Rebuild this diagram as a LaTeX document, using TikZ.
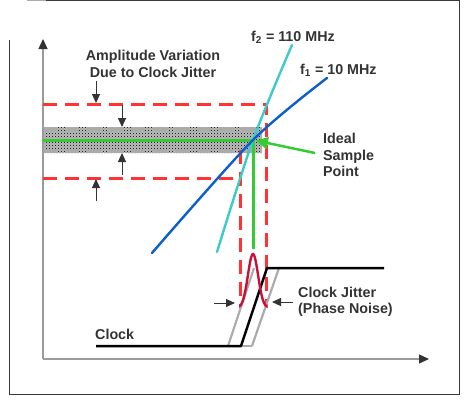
\documentclass[tikz,border=0pt]{standalone}
\usepackage{fontspec}
\setsansfont{Liberation Sans}
\usetikzlibrary{positioning, arrows.meta, patterns}

\begin{document}
\begin{tikzpicture}[
    x=1pt, y=-1pt,
    font=\sffamily\bfseries\fontsize{14.3}{16.5}\selectfont,
    >={Triangle[length=9pt,width=8pt]},
]
% ── Colours ──
\definecolor{frameg}{HTML}{3A3A3A}
\definecolor{axisg}{HTML}{9A9A9A}
\definecolor{textc}{HTML}{333333}
\definecolor{limit}{HTML}{FF3333}
\definecolor{ideal}{HTML}{33CC33}
\definecolor{fast}{HTML}{3CCACA}
\definecolor{slow}{HTML}{0A5FCC}
\definecolor{bell}{HTML}{C8103C}
\definecolor{edgeg}{HTML}{ABABAB}

% ── Styles ──
\tikzset{
    label-text/.style={text=textc, inner sep=0pt},
    axis-line/.style={draw=axisg, line width=1.3pt,
        -{Triangle[length=10pt,width=9pt,color=textc]}},
    limit-line/.style={draw=limit, line width=3pt, dash pattern=on 14pt off 8pt},
    band-edge/.style={draw=edgeg, line width=4pt, dash pattern=on 14pt off 8pt},
    ideal-line/.style={draw=ideal, line width=3pt},
    wave/.style={line width=2.4pt, line cap=round},
    dim-arrow/.style={->, draw=textc, line width=1pt},
    clock-line/.style={draw=black, line width=2.5pt, line join=round},
    edge-line/.style={draw=edgeg, line width=2.2pt},
}

\useasboundingbox (0,0) rectangle (467,402);

% ── Frame ──
\draw[edgeg, line width=1pt] (27,0.5) -- (46,0.5);
\draw[frameg, line width=1pt] (46,0.5) -- (459,0.5) -- (459,394) -- (9,394) -- (9,40);

% ── Key points ──
\coordinate (org) at (43,359);
\coordinate (ytop) at (43,39);
\coordinate (xend) at (429,359);
\coordinate (ideal) at (253,140);
\coordinate (hi) at (96,103);
\coordinate (lo) at (96,179);
\coordinate (btop) at (122,127);
\coordinate (bbot) at (122,153);

% ── Amplitude band ──
\fill[gray!55] (43,127) rectangle (262,153);
\fill[pattern=crosshatch dots, pattern color=black] (43,127) rectangle (262,153);
\fill[pattern=dots, pattern color=white] (43,127) rectangle (262,153);
\draw[band-edge] (43,129) -- (262,129);
\draw[band-edge] (43,151) -- (262,151);

% ── Axes ──
\draw[axis-line] (org) -- (ytop);
\draw[axis-line] (org) -- (xend);

% ── Limits from the jitter window ──
\draw[limit-line] (43,104) -- (266,104) -- (266,308);
\draw[limit-line] (43,178) -- (234,178);
\draw[limit-line] (240,150) -- (240,308);

% ── Ideal sample ──
\draw[ideal-line] (org |- ideal) -- (ideal) -- (253,249);

% ── Clock edges ──
\draw[edge-line] (228,346) -- (254,268);
\draw[edge-line] (252,346) -- (279,268);
\draw[edge-line] (240,346) -- (252,346);
\draw[clock-line] (96,346) -- (241,346) -- (267,268) -- (384,268);

% ── Jitter distribution ──
\draw[wave, draw=bell] plot[domain=-13:13, samples=60]
    ({253+\x}, {308-54*exp(-(\x/7.2)^2)});

% ── Input signals ──
\draw[wave, draw=fast] plot[smooth] coordinates {(217,252) (253,140) (292,45)};
\draw[wave, draw=slow] plot[smooth] coordinates {(152,253) (253,140) (327,78)};

% ── Labels ──
\node[label-text, align=center] (amp) at (153,64) {Amplitude Variation\\Due to Clock Jitter};
\node[label-text, anchor=west] (f2) at (251,37) {f\textsubscript{2} = 110 MHz};
\node[label-text, anchor=west] (f1) at (300,70) {f\textsubscript{1} = 10 MHz};
\node[label-text, align=left, anchor=west] (isp) at (323,155) {Ideal\\Sample\\Point};
\node[label-text, align=left, anchor=west] (cj) at (298,302) {Clock Jitter\\(Phase Noise)};
\node[label-text, anchor=west] (clk) at (95,334) {Clock};

% ── Dimension arrows ──
\draw[dim-arrow] (96,81) -- (hi);
\draw[dim-arrow] (96,201) -- (lo);
\draw[dim-arrow] (122,105) -- (btop);
\draw[dim-arrow] (122,175) -- (bbot);
\draw[dim-arrow] (214,303) -- (235,303);
\draw[dim-arrow] ([xshift=-5pt]cj.west) -- ++(-21,0);

% ── Pointer to the sample point ──
\draw[-{Triangle[length=12pt,width=12pt]}, draw=ideal, fill=ideal, line width=2.5pt,
    shorten >=3pt] ([xshift=-8pt,yshift=2pt]isp.west) -- (ideal);

\end{tikzpicture}
\end{document}
